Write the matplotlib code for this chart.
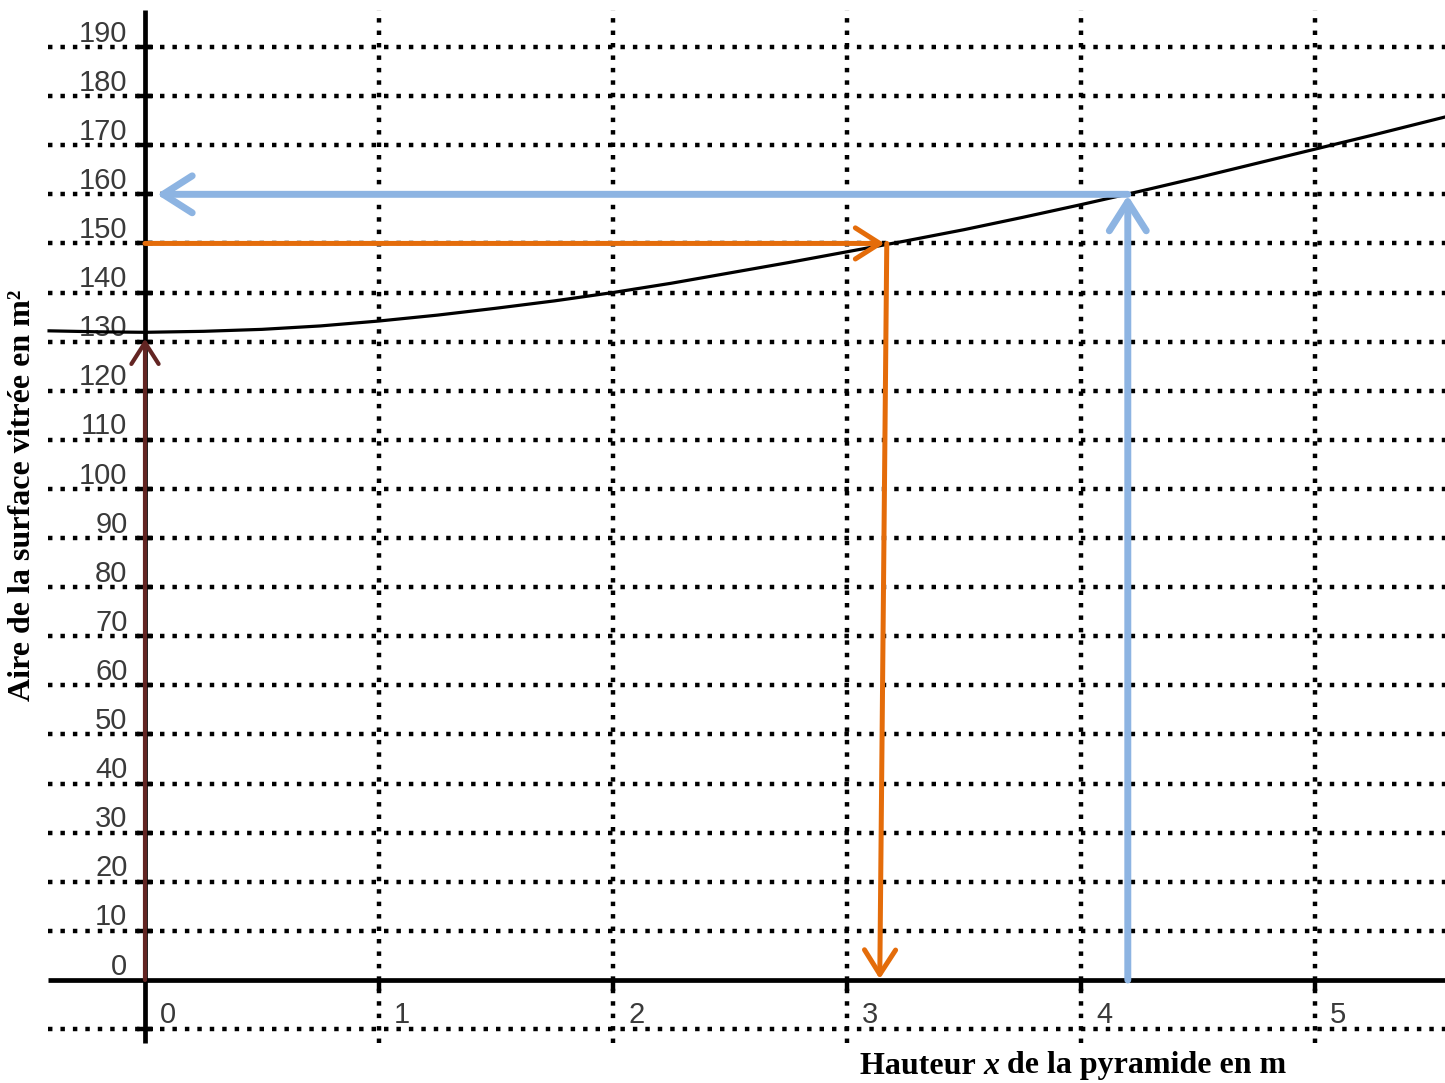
import matplotlib
matplotlib.use("Agg")
import matplotlib.pyplot as plt
from matplotlib.offsetbox import TextArea, HPacker, AnchoredOffsetbox

# ---- data ----
curve_x = [-0.41, -0.2, 0.0, 0.25, 0.5, 0.75, 1.0, 1.25, 1.5, 1.75, 2.0, 2.25, 2.5,
           2.75, 3.0, 3.25, 3.5, 3.75, 4.0, 4.25, 4.5, 4.75, 5.0, 5.25, 5.56]
curve_y = [132.2, 132.0, 131.9, 132.1, 132.5, 133.2, 134.2, 135.4, 136.8, 138.3, 140.0, 141.9, 144.0,
           146.1, 148.3, 150.5, 152.8, 155.3, 157.9, 160.6, 163.4, 166.3, 169.2, 172.1, 175.8]

x_ticks = [0, 1, 2, 3, 4, 5]
y_ticks = [0, 10, 20, 30, 40, 50, 60, 70, 80, 90, 100, 110, 120, 130, 140, 150, 160, 170, 180, 190]
y_grid = [-10] + y_ticks[1:]
x_grid = [1, 2, 3, 4, 5]

x_min, x_max = -0.415, 5.556
y_min, y_max = -12.8, 197.5

# arrows: (start, end)
maroon_arrow = ((0.0, 0.0), (0.0, 130.6))
orange_h = ((0.0, 150.0), (3.16, 150.0))
orange_v = ((3.17, 150.0), (3.14, 0.2))
blue_v = ((4.2, 0.0), (4.2, 159.8))
blue_h = ((4.2, 160.0), (0.05, 160.0))

xlabel_parts = ["Hauteur ", "x", " de la pyramide en m"]
ylabel = "Aire de la surface vitrée en m²"

# ---- figure ----
W, H = 1445, 1083
fig = plt.figure(figsize=(W / 100, H / 100), dpi=100)
ax = fig.add_axes([0, 0, 1, 1])
ppx = 234.0      # pixels per x unit
ppy = 4.9105     # pixels per y unit
x0p, y0p = 145.0, 980.0
ax.set_xlim(-x0p / ppx, (W - x0p) / ppx)
ax.set_ylim(-(H - y0p) / ppy, y0p / ppy)
ax.axis("off")

dot = dict(color="black", lw=3.2, linestyle=(0, (1, 1.8)), dash_capstyle="butt")
for yv in y_grid:
    ax.plot([x_min, x_max], [yv, yv], **dot, zorder=1)
for xv in x_grid:
    ax.plot([xv, xv], [y_min, y_max], **dot, zorder=1)

# main axes
ax.plot([x_min, x_max], [0, 0], color="black", lw=3.4, solid_capstyle="butt", zorder=3)
ax.plot([0, 0], [y_min, y_max], color="black", lw=3.4, solid_capstyle="butt", zorder=3)
# small tick marks on axes
for yv in y_grid:
    ax.plot([-0.035, 0.035], [yv, yv], color="black", lw=3.2, solid_capstyle="butt", zorder=3)
for xv in x_grid:
    ax.plot([xv, xv], [-2.2, 0], color="black", lw=3.2, solid_capstyle="butt", zorder=3)

# tick labels
tick_font = dict(family=["Liberation Sans", "DejaVu Sans"], fontsize=21, color="#3a3a3a")
for yv in y_ticks:
    ax.text(-0.075, yv + 1.1, str(yv), ha="right", va="baseline", **tick_font, zorder=2)
for xv in x_ticks:
    ax.text(xv + 0.065, -8.8, str(xv), ha="left", va="baseline", **tick_font, zorder=2)

# curve
ax.plot(curve_x, curve_y, color="black", lw=2.3, zorder=4, solid_joinstyle="round")


def arrow(p0, p1, color, lw, ms):
    ax.annotate("", xy=p1, xytext=p0,
                arrowprops=dict(arrowstyle="->,head_length=0.55,head_width=0.35",
                                color=color, lw=lw, shrinkA=0, shrinkB=0,
                                mutation_scale=ms, capstyle="round", joinstyle="round"),
                zorder=5)


arrow(*maroon_arrow, "#632523", 3.0, 28)
arrow(*orange_h, "#E46C0A", 3.6, 32)
arrow(*orange_v, "#E46C0A", 3.6, 32)
arrow(*blue_v, "#8DB4E2", 5.0, 38)
arrow(*blue_h, "#8DB4E2", 5.0, 38)

# axis titles
lab_font = dict(family=["Liberation Serif", "DejaVu Serif"], fontsize=23, fontweight="bold", color="black")
fig.text(23 / W, 1 - 495 / H, ylabel, rotation=90, ha="center", va="center", **lab_font)

areas = []
for i, part in enumerate(xlabel_parts):
    props = dict(lab_font)
    if i == 1:
        props["fontstyle"] = "italic"
    areas.append(TextArea(part, textprops=props))
box = HPacker(children=areas, align="baseline", pad=0, sep=0)
anch = AnchoredOffsetbox(loc="center left", child=box, pad=0, borderpad=0, frameon=False,
                         bbox_to_anchor=(860 / W, 1 - 1066 / H), bbox_transform=fig.transFigure)
fig.add_artist(anch)

fig.savefig("out.png", dpi=100)
